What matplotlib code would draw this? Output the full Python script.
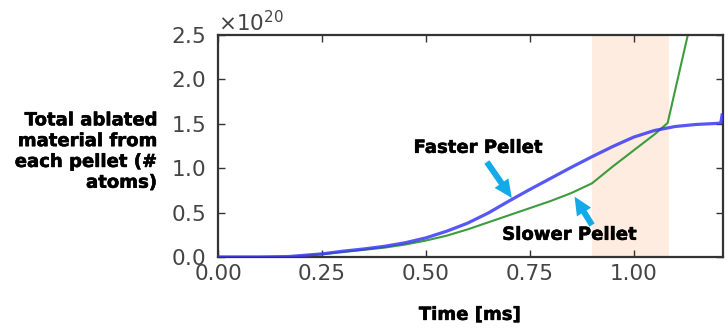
import numpy as np
import matplotlib
matplotlib.use("Agg")
import matplotlib.pyplot as plt
import matplotlib.patheffects as pe
from matplotlib.ticker import ScalarFormatter

# time [ms] and total ablated atoms (units of 1e20)
t_fast = [0.0, 0.1, 0.17, 0.25, 0.3, 0.35, 0.4, 0.45, 0.5, 0.55, 0.6, 0.65,
          0.7, 0.75, 0.8, 0.85, 0.9, 0.95, 1.0, 1.05, 1.1, 1.15, 1.2, 1.21, 1.213]
n_fast = [0.0, 0.0, 0.005, 0.035, 0.065, 0.09, 0.12, 0.16, 0.215, 0.29, 0.38, 0.495,
          0.63, 0.76, 0.885, 1.01, 1.13, 1.245, 1.35, 1.425, 1.47, 1.493, 1.505, 1.51, 1.6]

t_slow = [0.0, 0.1, 0.17, 0.25, 0.3, 0.35, 0.4, 0.45, 0.5, 0.55, 0.6, 0.65,
          0.7, 0.75, 0.8, 0.85, 0.9, 0.95, 1.0, 1.05, 1.082, 1.13, 1.2]
n_slow = [0.0, 0.0, 0.0, 0.03, 0.055, 0.08, 0.105, 0.14, 0.185, 0.24, 0.31, 0.39,
          0.47, 0.55, 0.63, 0.72, 0.83, 1.02, 1.20, 1.38, 1.51, 2.49, 3.9]

span = (0.9, 1.085)
scale = 1e20

fig = plt.figure(figsize=(7.28, 3.28), dpi=100)
ax = fig.add_axes([0.2995, 0.2165, 0.6935, 0.6765])

ax.axvspan(span[0], span[1], color="#fde9da", alpha=0.85, lw=0, zorder=0)
ax.plot(t_fast, np.array(n_fast) * scale, color="#3a3af5", lw=2.3, alpha=0.85,
        solid_joinstyle="round", zorder=3)
ax.plot(t_slow, np.array(n_slow) * scale, color="#3d9c3d", lw=1.5,
        solid_joinstyle="round", zorder=2)

ax.set_xlim(0, 1.215)
ax.set_ylim(0, 2.5 * scale)
ax.set_xticks([0, 0.25, 0.5, 0.75, 1.0])
ax.set_xticklabels(["0.00", "0.25", "0.50", "0.75", "1.00"])
ax.set_yticks(np.arange(0, 2.51, 0.5) * scale)
ax.yaxis.set_major_formatter(ScalarFormatter(useMathText=True))

ax.tick_params(direction="in", top=True, right=True, length=5, width=1,
               color="#333333", labelsize=15.5, labelcolor="#444444")
ax.tick_params(axis="y", pad=9)
ax.tick_params(axis="x", pad=5)
ax.yaxis.get_offset_text().set_fontsize(15.5)
ax.yaxis.get_offset_text().set_color("#444444")
for s in ax.spines.values():
    s.set_linewidth(1.6)
    s.set_color("#333333")

heavy = [pe.withStroke(linewidth=0.4, foreground="black")]
bold = dict(fontsize=13, fontweight="bold", family="DejaVu Sans", color="black",
            path_effects=heavy)

fig.text(0.215, 0.538, "Total ablated\nmaterial from\neach pellet (#\natoms)",
         ha="right", va="center", linespacing=1.2, **bold)
fig.text(0.645, 0.04, "Time [ms]", ha="center", va="center", **bold)

ax.text(0.625, 1.23 * scale, "Faster Pellet", ha="center", va="center", **bold)
ax.text(0.845, 0.25 * scale, "Slower Pellet", ha="center", va="center", **bold)

arrow = dict(arrowstyle="simple,head_width=0.6,head_length=0.65,tail_width=0.22",
             color="#14aaea", lw=0, mutation_scale=20, shrinkA=0, shrinkB=0)
ax.annotate("", xy=(0.707, 0.665 * scale), xytext=(0.647, 1.07 * scale),
            arrowprops=arrow, zorder=4)
ax.annotate("", xy=(0.858, 0.68 * scale), xytext=(0.90, 0.36 * scale),
            arrowprops=arrow, zorder=4)

fig.savefig("out.png", dpi=100)
